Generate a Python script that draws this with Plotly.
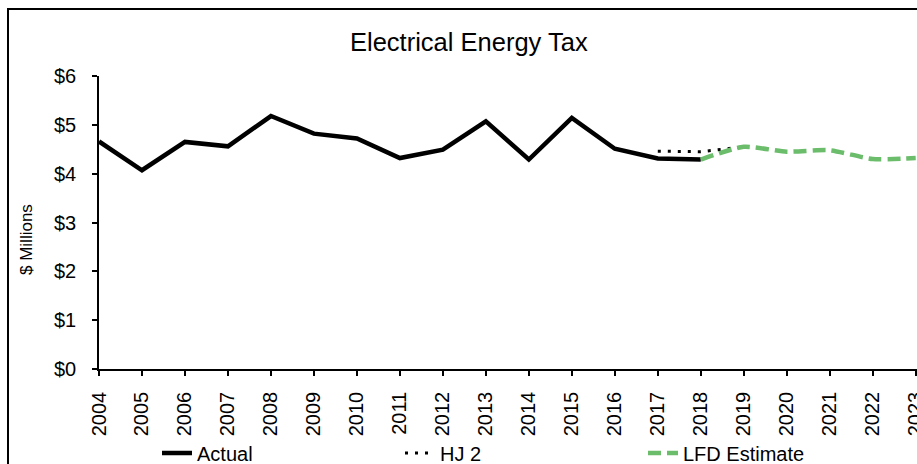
import plotly.graph_objects as go

years_actual = [2004, 2005, 2006, 2007, 2008, 2009, 2010, 2011, 2012, 2013, 2014, 2015, 2016, 2017, 2018]
actual = [4.66, 4.07, 4.65, 4.56, 5.18, 4.82, 4.72, 4.32, 4.49, 5.07, 4.29, 5.14, 4.51, 4.31, 4.29]

years_hj2 = [2017, 2018, 2019]
hj2 = [4.46, 4.45, 4.55]

years_lfd = [2018, 2019, 2020, 2021, 2022, 2023]
lfd = [4.29, 4.55, 4.45, 4.48, 4.30, 4.32]

tick_years = list(range(2004, 2024))
y_ticks = [0, 1, 2, 3, 4, 5, 6]
y_labels = ["$0", "$1", "$2", "$3", "$4", "$5", "$6"]

FONT = "Liberation Sans, Arial, sans-serif"

fig = go.Figure()
fig.add_trace(go.Scatter(x=years_actual, y=actual, name="Actual", mode="lines",
                         line=dict(color="black", width=4.5)))
fig.add_trace(go.Scatter(x=years_hj2, y=hj2, name="HJ 2", mode="lines",
                         line=dict(color="black", width=3, dash="3px,7px")))
fig.add_trace(go.Scatter(x=years_lfd, y=lfd, name="LFD Estimate", mode="lines",
                         line=dict(color="#6BBD6B", width=4.5, dash="13px,6px", shape="spline", smoothing=0.6)))

L, T = 99, 76
W, H = 917, 464
R, B = 0, 95
pw = W - L - R
ph = H - T - B

def px_x(px):
    return (px - L) / pw

def px_y(py):
    return (H - B - py) / ph

fig.update_layout(
    width=W, height=H,
    margin=dict(l=L, r=R, t=T, b=B, pad=0, autoexpand=False),
    paper_bgcolor="white", plot_bgcolor="white",
    font=dict(family=FONT, color="black", size=20),
    showlegend=True,
    legend=dict(orientation="h", x=px_x(157), xanchor="left", y=px_y(453), yanchor="middle",
                font=dict(size=20, family=FONT), entrywidth=198, entrywidthmode="pixels",
                bgcolor="rgba(0,0,0,0)", tracegroupgap=0),
    xaxis=dict(range=[2004, 2023.03], tickmode="array", tickvals=tick_years,
               ticktext=[str(y) for y in tick_years], tickangle=-90,
               showline=True, linecolor="black", linewidth=1.5,
               ticks="outside", ticklen=5, tickcolor="black", tickwidth=1.5,
               showgrid=False, zeroline=False, ticklabelstandoff=8, automargin=False,
               ticklabeloverflow="allow",
               tickfont=dict(size=20, family=FONT)),
    yaxis=dict(range=[0, 6], tickmode="array", tickvals=y_ticks, ticktext=y_labels,
               showline=True, linecolor="black", linewidth=1.5,
               ticks="outside", ticklen=5, tickcolor="black", tickwidth=1.5,
               showgrid=False, zeroline=False, ticklabelstandoff=12, automargin=False,
               tickfont=dict(size=20, family=FONT)),
    annotations=[
        dict(text="Electrical Energy Tax", xref="paper", yref="paper",
             x=px_x(469), y=px_y(42), xanchor="center", yanchor="middle",
             showarrow=False, font=dict(size=25.5, family=FONT)),
        dict(text="$ Millions", xref="paper", yref="paper",
             x=px_x(26), y=px_y(240), xanchor="center", yanchor="middle",
             textangle=-90, showarrow=False, font=dict(size=17, family=FONT)),
    ],
    shapes=[
        dict(type="rect", xref="paper", yref="paper",
             x0=px_x(8), y0=px_y(490), x1=px_x(960), y1=px_y(9),
             line=dict(color="black", width=2), fillcolor="rgba(0,0,0,0)", layer="below"),
    ],
)

fig.write_html("out.html")
